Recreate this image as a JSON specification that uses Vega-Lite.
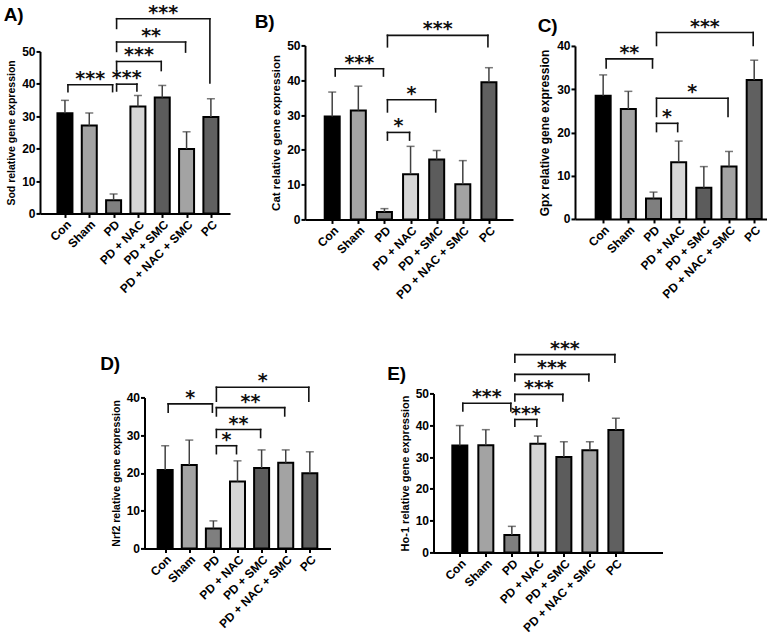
{
 "$schema": "https://vega.github.io/schema/vega-lite/v6.json",
 "padding": {"left": 3, "top": 3, "right": 0, "bottom": 0},
 "config": {
  "view": {"stroke": null},
  "axis": {"domainColor": "black", "domainWidth": 2, "tickColor": "black", "tickWidth": 2, "tickSize": 4, "labelColor": "black", "labelFont": "Liberation Sans", "labelFontWeight": "bold", "labelFontSize": 12, "titleFont": "Liberation Sans", "titleFontWeight": "bold", "titleColor": "black", "grid": false, "labelFlush": false, "labelOverlap": false, "labelPadding": 1, "titlePadding": 5},
  "title": {"anchor": "start", "frame": "bounds", "font": "Liberation Sans", "fontSize": 19, "fontWeight": "bold", "color": "black"}
 },
 "datasets": {
  "groups": [
   {"group": "Con", "order": 0}, {"group": "Sham", "order": 1}, {"group": "PD", "order": 2}, {"group": "PD + NAC", "order": 3},
   {"group": "PD + SMC", "order": 4}, {"group": "PD + NAC + SMC", "order": 5}, {"group": "PC", "order": 6}
  ],
  "bars": [
   {"panel": "A", "group": "Con", "mean": 30.9, "upper": 34.9},
   {"panel": "A", "group": "Sham", "mean": 27.1, "upper": 31.0},
   {"panel": "A", "group": "PD", "mean": 4.1, "upper": 6.0},
   {"panel": "A", "group": "PD + NAC", "mean": 33.0, "upper": 36.4},
   {"panel": "A", "group": "PD + SMC", "mean": 35.8, "upper": 39.5},
   {"panel": "A", "group": "PD + NAC + SMC", "mean": 19.9, "upper": 25.2},
   {"panel": "A", "group": "PC", "mean": 29.8, "upper": 35.4},
   {"panel": "B", "group": "Con", "mean": 29.6, "upper": 36.6},
   {"panel": "B", "group": "Sham", "mean": 31.3, "upper": 38.3},
   {"panel": "B", "group": "PD", "mean": 2.1, "upper": 3.1},
   {"panel": "B", "group": "PD + NAC", "mean": 13.0, "upper": 21.0},
   {"panel": "B", "group": "PD + SMC", "mean": 17.2, "upper": 19.8},
   {"panel": "B", "group": "PD + NAC + SMC", "mean": 10.1, "upper": 16.9},
   {"panel": "B", "group": "PC", "mean": 39.4, "upper": 43.6},
   {"panel": "C", "group": "Con", "mean": 28.5, "upper": 33.3},
   {"panel": "C", "group": "Sham", "mean": 25.4, "upper": 29.5},
   {"panel": "C", "group": "PD", "mean": 4.7, "upper": 6.2},
   {"panel": "C", "group": "PD + NAC", "mean": 13.1, "upper": 18.0},
   {"panel": "C", "group": "PD + SMC", "mean": 7.2, "upper": 12.1},
   {"panel": "C", "group": "PD + NAC + SMC", "mean": 12.1, "upper": 15.6},
   {"panel": "C", "group": "PC", "mean": 32.1, "upper": 36.7},
   {"panel": "D", "group": "Con", "mean": 20.8, "upper": 27.2},
   {"panel": "D", "group": "Sham", "mean": 22.1, "upper": 28.7},
   {"panel": "D", "group": "PD", "mean": 5.3, "upper": 7.3},
   {"panel": "D", "group": "PD + NAC", "mean": 17.7, "upper": 23.2},
   {"panel": "D", "group": "PD + SMC", "mean": 21.3, "upper": 26.1},
   {"panel": "D", "group": "PD + NAC + SMC", "mean": 22.7, "upper": 26.1},
   {"panel": "D", "group": "PC", "mean": 19.9, "upper": 25.6},
   {"panel": "E", "group": "Con", "mean": 33.6, "upper": 39.9},
   {"panel": "E", "group": "Sham", "mean": 33.7, "upper": 38.6},
   {"panel": "E", "group": "PD", "mean": 5.5, "upper": 8.2},
   {"panel": "E", "group": "PD + NAC", "mean": 34.2, "upper": 36.6},
   {"panel": "E", "group": "PD + SMC", "mean": 30.0, "upper": 34.8},
   {"panel": "E", "group": "PD + NAC + SMC", "mean": 32.1, "upper": 34.8},
   {"panel": "E", "group": "PC", "mean": 38.5, "upper": 42.2}
  ],
  "brackets": [
   {"panel": "A", "from": "Con", "to": "PD", "level": 39.7, "lo1": 37.6, "lo2": 37.6, "sig": "***"},
   {"panel": "A", "from": "PD", "to": "PD + NAC", "level": 39.9, "lo1": 37.8, "lo2": 37.8, "sig": "***"},
   {"panel": "A", "from": "PD", "to": "PD + SMC", "level": 46.9, "lo1": 44.1, "lo2": 44.1, "sig": "***"},
   {"panel": "A", "from": "PD", "to": "PD + NAC + SMC", "level": 52.9, "lo1": 50.0, "lo2": 49.8, "sig": "**"},
   {"panel": "A", "from": "PD", "to": "PC", "level": 60.1, "lo1": 57.1, "lo2": 40.3, "sig": "***"},
   {"panel": "B", "from": "Con", "to": "PD", "level": 43.3, "lo1": 41.2, "lo2": 41.2, "sig": "***"},
   {"panel": "B", "from": "PD", "to": "PD + NAC", "level": 25.0, "lo1": 22.8, "lo2": 22.8, "sig": "*"},
   {"panel": "B", "from": "PD", "to": "PD + SMC", "level": 34.4, "lo1": 30.9, "lo2": 30.9, "sig": "*"},
   {"panel": "B", "from": "PD", "to": "PC", "level": 52.9, "lo1": 49.6, "lo2": 49.6, "sig": "***"},
   {"panel": "C", "from": "Con", "to": "PD", "level": 37.0, "lo1": 34.9, "lo2": 34.9, "sig": "**"},
   {"panel": "C", "from": "PD", "to": "PD + NAC", "level": 22.1, "lo1": 20.2, "lo2": 20.2, "sig": "*"},
   {"panel": "C", "from": "PD", "to": "PD + NAC + SMC", "level": 27.9, "lo1": 23.7, "lo2": 23.7, "sig": "*"},
   {"panel": "C", "from": "PD", "to": "PC", "level": 43.1, "lo1": 40.1, "lo2": 40.1, "sig": "***"},
   {"panel": "D", "from": "Con", "to": "PD", "level": 38.3, "lo1": 36.1, "lo2": 36.1, "sig": "*"},
   {"panel": "D", "from": "PD", "to": "PD + NAC", "level": 27.2, "lo1": 25.1, "lo2": 25.1, "sig": "*"},
   {"panel": "D", "from": "PD", "to": "PD + SMC", "level": 31.5, "lo1": 29.4, "lo2": 29.4, "sig": "**"},
   {"panel": "D", "from": "PD", "to": "PD + NAC + SMC", "level": 37.3, "lo1": 35.1, "lo2": 35.1, "sig": "**"},
   {"panel": "D", "from": "PD", "to": "PC", "level": 42.7, "lo1": 39.0, "lo2": 39.0, "sig": "*"},
   {"panel": "E", "from": "Con", "to": "PD", "level": 46.9, "lo1": 44.5, "lo2": 44.5, "sig": "***"},
   {"panel": "E", "from": "PD", "to": "PD + NAC", "level": 41.8, "lo1": 39.7, "lo2": 39.7, "sig": "***"},
   {"panel": "E", "from": "PD", "to": "PD + SMC", "level": 49.7, "lo1": 47.6, "lo2": 47.6, "sig": "***"},
   {"panel": "E", "from": "PD", "to": "PD + NAC + SMC", "level": 56.0, "lo1": 53.9, "lo2": 53.9, "sig": "***"},
   {"panel": "E", "from": "PD", "to": "PC", "level": 62.2, "lo1": 59.8, "lo2": 59.8, "sig": "***"}
  ]
 },
 "center": true,
 "spacing": 38,
 "vconcat": [
  {"spacing": 24, "center": true, "hconcat": [
   {"title": {"text": "A)", "offset": -21, "dx": -3}, "width": 190, "height": 162,
    "resolve": {"axis": {"x": "independent", "y": "independent"}},
    "layer": [
     {"data": {"name": "bars"}, "transform": [{"filter": "datum.panel === 'A'"}, {"lookup": "group", "from": {"data": {"name": "groups"}, "key": "group", "fields": ["order"]}}],
      "mark": {"type": "bar", "width": 15, "stroke": "black", "strokeWidth": 2},
      "encoding": {
       "x": {"field": "order", "type": "quantitative", "scale": {"domain": [-0.82, 6.58], "nice": false, "zero": false}, "axis": {"title": null, "values": [0, 1, 2, 3, 4, 5, 6], "labelOverlap": false, "labelExpr": "['Con','Sham','PD','PD + NAC','PD + SMC','PD + NAC + SMC','PC'][datum.value]", "labelAngle": -45, "labelAlign": "right", "labelBaseline": "top"}},
       "y": {"field": "mean", "type": "quantitative", "scale": {"domain": [0, 50], "nice": false}, "axis": {"title": "Sod relative gene expression", "values": [0, 10, 20, 30, 40, 50], "labelOverlap": false, "titleFontSize": 10.5}},
       "color": {"field": "group", "type": "nominal", "scale": {"domain": ["Con", "Sham", "PD", "PD + NAC", "PD + SMC", "PD + NAC + SMC", "PC"], "range": ["#000000", "#a3a3a3", "#7f7f7f", "#d6d6d6", "#5c5c5c", "#a3a3a3", "#606060"]}, "legend": null}}},
     {"data": {"name": "bars"}, "transform": [{"filter": "datum.panel === 'A'"}, {"lookup": "group", "from": {"data": {"name": "groups"}, "key": "group", "fields": ["order"]}}],
      "mark": {"type": "rule", "color": "#404040", "strokeWidth": 1.5},
      "encoding": {"x": {"field": "order", "type": "quantitative", "axis": null}, "y": {"field": "mean", "type": "quantitative", "axis": null}, "y2": {"field": "upper"}}},
     {"data": {"name": "bars"}, "transform": [{"filter": "datum.panel === 'A'"}, {"lookup": "group", "from": {"data": {"name": "groups"}, "key": "group", "fields": ["order"]}}],
      "mark": {"type": "tick", "orient": "horizontal", "size": 8, "thickness": 1.5, "color": "#404040"},
      "encoding": {"x": {"field": "order", "type": "quantitative", "axis": null}, "y": {"field": "upper", "type": "quantitative", "axis": null}}},
     {"data": {"name": "brackets"}, "transform": [{"filter": "datum.panel === 'A'"}, {"lookup": "from", "from": {"data": {"name": "groups"}, "key": "group", "fields": ["order"]}, "as": ["i1"]}, {"lookup": "to", "from": {"data": {"name": "groups"}, "key": "group", "fields": ["order"]}, "as": ["i2"]}],
      "mark": {"type": "rule", "strokeWidth": 1.6, "color": "#111111", "strokeCap": "square", "xOffset": 3, "x2Offset": -1},
      "encoding": {"x": {"field": "i1", "type": "quantitative", "axis": null}, "x2": {"field": "i2"}, "y": {"field": "level", "type": "quantitative", "axis": null}}},
     {"data": {"name": "brackets"}, "transform": [{"filter": "datum.panel === 'A'"}, {"lookup": "from", "from": {"data": {"name": "groups"}, "key": "group", "fields": ["order"]}, "as": ["i1"]}],
      "mark": {"type": "rule", "strokeWidth": 1.6, "color": "#111111", "strokeCap": "square", "xOffset": 3},
      "encoding": {"x": {"field": "i1", "type": "quantitative", "axis": null}, "y": {"field": "level", "type": "quantitative", "axis": null}, "y2": {"field": "lo1"}}},
     {"data": {"name": "brackets"}, "transform": [{"filter": "datum.panel === 'A'"}, {"lookup": "to", "from": {"data": {"name": "groups"}, "key": "group", "fields": ["order"]}, "as": ["i2"]}],
      "mark": {"type": "rule", "strokeWidth": 1.6, "color": "#111111", "strokeCap": "square", "xOffset": -1},
      "encoding": {"x": {"field": "i2", "type": "quantitative", "axis": null}, "y": {"field": "level", "type": "quantitative", "axis": null}, "y2": {"field": "lo2"}}},
     {"data": {"name": "brackets"}, "transform": [{"filter": "datum.panel === 'A'"}, {"lookup": "from", "from": {"data": {"name": "groups"}, "key": "group", "fields": ["order"]}, "as": ["i1"]}, {"lookup": "to", "from": {"data": {"name": "groups"}, "key": "group", "fields": ["order"]}, "as": ["i2"]}, {"fold": ["i1", "i2"]}, {"aggregate": [{"op": "mean", "field": "value", "as": "mid"}], "groupby": ["from", "to", "level", "sig"]}],
      "mark": {"type": "text", "font": "DejaVu Sans", "fontWeight": "bold", "fontSize": 19, "baseline": "alphabetic", "dx": 1, "color": "#111111"},
      "encoding": {"x": {"field": "mid", "type": "quantitative", "axis": null}, "y": {"field": "level", "type": "quantitative", "axis": null}, "text": {"field": "sig", "type": "nominal"}}}
    ]},
   {"title": {"text": "B)", "offset": -12, "dx": -16}, "width": 208, "height": 174,
    "resolve": {"axis": {"x": "independent", "y": "independent"}},
    "layer": [
     {"data": {"name": "bars"}, "transform": [{"filter": "datum.panel === 'B'"}, {"lookup": "group", "from": {"data": {"name": "groups"}, "key": "group", "fields": ["order"]}}],
      "mark": {"type": "bar", "width": 15, "stroke": "black", "strokeWidth": 2},
      "encoding": {
       "x": {"field": "order", "type": "quantitative", "scale": {"domain": [-0.85, 6.73], "nice": false, "zero": false}, "axis": {"title": null, "values": [0, 1, 2, 3, 4, 5, 6], "labelOverlap": false, "labelExpr": "['Con','Sham','PD','PD + NAC','PD + SMC','PD + NAC + SMC','PC'][datum.value]", "labelAngle": -45, "labelAlign": "right", "labelBaseline": "top"}},
       "y": {"field": "mean", "type": "quantitative", "scale": {"domain": [0, 50], "nice": false}, "axis": {"title": "Cat relative gene expression", "values": [0, 10, 20, 30, 40, 50], "labelOverlap": false, "titleFontSize": 11.5}},
       "color": {"field": "group", "type": "nominal", "scale": {"domain": ["Con", "Sham", "PD", "PD + NAC", "PD + SMC", "PD + NAC + SMC", "PC"], "range": ["#000000", "#a3a3a3", "#7f7f7f", "#d6d6d6", "#5c5c5c", "#a3a3a3", "#606060"]}, "legend": null}}},
     {"data": {"name": "bars"}, "transform": [{"filter": "datum.panel === 'B'"}, {"lookup": "group", "from": {"data": {"name": "groups"}, "key": "group", "fields": ["order"]}}],
      "mark": {"type": "rule", "color": "#404040", "strokeWidth": 1.5},
      "encoding": {"x": {"field": "order", "type": "quantitative", "axis": null}, "y": {"field": "mean", "type": "quantitative", "axis": null}, "y2": {"field": "upper"}}},
     {"data": {"name": "bars"}, "transform": [{"filter": "datum.panel === 'B'"}, {"lookup": "group", "from": {"data": {"name": "groups"}, "key": "group", "fields": ["order"]}}],
      "mark": {"type": "tick", "orient": "horizontal", "size": 8, "thickness": 1.5, "color": "#404040"},
      "encoding": {"x": {"field": "order", "type": "quantitative", "axis": null}, "y": {"field": "upper", "type": "quantitative", "axis": null}}},
     {"data": {"name": "brackets"}, "transform": [{"filter": "datum.panel === 'B'"}, {"lookup": "from", "from": {"data": {"name": "groups"}, "key": "group", "fields": ["order"]}, "as": ["i1"]}, {"lookup": "to", "from": {"data": {"name": "groups"}, "key": "group", "fields": ["order"]}, "as": ["i2"]}],
      "mark": {"type": "rule", "strokeWidth": 1.6, "color": "#111111", "strokeCap": "square", "xOffset": 3, "x2Offset": -1},
      "encoding": {"x": {"field": "i1", "type": "quantitative", "axis": null}, "x2": {"field": "i2"}, "y": {"field": "level", "type": "quantitative", "axis": null}}},
     {"data": {"name": "brackets"}, "transform": [{"filter": "datum.panel === 'B'"}, {"lookup": "from", "from": {"data": {"name": "groups"}, "key": "group", "fields": ["order"]}, "as": ["i1"]}],
      "mark": {"type": "rule", "strokeWidth": 1.6, "color": "#111111", "strokeCap": "square", "xOffset": 3},
      "encoding": {"x": {"field": "i1", "type": "quantitative", "axis": null}, "y": {"field": "level", "type": "quantitative", "axis": null}, "y2": {"field": "lo1"}}},
     {"data": {"name": "brackets"}, "transform": [{"filter": "datum.panel === 'B'"}, {"lookup": "to", "from": {"data": {"name": "groups"}, "key": "group", "fields": ["order"]}, "as": ["i2"]}],
      "mark": {"type": "rule", "strokeWidth": 1.6, "color": "#111111", "strokeCap": "square", "xOffset": -1},
      "encoding": {"x": {"field": "i2", "type": "quantitative", "axis": null}, "y": {"field": "level", "type": "quantitative", "axis": null}, "y2": {"field": "lo2"}}},
     {"data": {"name": "brackets"}, "transform": [{"filter": "datum.panel === 'B'"}, {"lookup": "from", "from": {"data": {"name": "groups"}, "key": "group", "fields": ["order"]}, "as": ["i1"]}, {"lookup": "to", "from": {"data": {"name": "groups"}, "key": "group", "fields": ["order"]}, "as": ["i2"]}, {"fold": ["i1", "i2"]}, {"aggregate": [{"op": "mean", "field": "value", "as": "mid"}], "groupby": ["from", "to", "level", "sig"]}],
      "mark": {"type": "text", "font": "DejaVu Sans", "fontWeight": "bold", "fontSize": 19, "baseline": "alphabetic", "dx": 1, "color": "#111111"},
      "encoding": {"x": {"field": "mid", "type": "quantitative", "axis": null}, "y": {"field": "level", "type": "quantitative", "axis": null}, "text": {"field": "sig", "type": "nominal"}}}
    ]},
   {"title": {"text": "C)", "offset": -18, "dx": -1}, "width": 192, "height": 173,
    "resolve": {"axis": {"x": "independent", "y": "independent"}},
    "layer": [
     {"data": {"name": "bars"}, "transform": [{"filter": "datum.panel === 'C'"}, {"lookup": "group", "from": {"data": {"name": "groups"}, "key": "group", "fields": ["order"]}}],
      "mark": {"type": "bar", "width": 15, "stroke": "black", "strokeWidth": 2},
      "encoding": {
       "x": {"field": "order", "type": "quantitative", "scale": {"domain": [-0.92, 6.31], "nice": false, "zero": false}, "axis": {"title": null, "values": [0, 1, 2, 3, 4, 5, 6], "labelOverlap": false, "labelExpr": "['Con','Sham','PD','PD + NAC','PD + SMC','PD + NAC + SMC','PC'][datum.value]", "labelAngle": -45, "labelAlign": "right", "labelBaseline": "top"}},
       "y": {"field": "mean", "type": "quantitative", "scale": {"domain": [0, 40], "nice": false}, "axis": {"title": "Gpx relative gene expression", "values": [0, 10, 20, 30, 40], "labelOverlap": false, "titleFontSize": 12}},
       "color": {"field": "group", "type": "nominal", "scale": {"domain": ["Con", "Sham", "PD", "PD + NAC", "PD + SMC", "PD + NAC + SMC", "PC"], "range": ["#000000", "#a3a3a3", "#7f7f7f", "#d6d6d6", "#5c5c5c", "#a3a3a3", "#606060"]}, "legend": null}}},
     {"data": {"name": "bars"}, "transform": [{"filter": "datum.panel === 'C'"}, {"lookup": "group", "from": {"data": {"name": "groups"}, "key": "group", "fields": ["order"]}}],
      "mark": {"type": "rule", "color": "#404040", "strokeWidth": 1.5},
      "encoding": {"x": {"field": "order", "type": "quantitative", "axis": null}, "y": {"field": "mean", "type": "quantitative", "axis": null}, "y2": {"field": "upper"}}},
     {"data": {"name": "bars"}, "transform": [{"filter": "datum.panel === 'C'"}, {"lookup": "group", "from": {"data": {"name": "groups"}, "key": "group", "fields": ["order"]}}],
      "mark": {"type": "tick", "orient": "horizontal", "size": 8, "thickness": 1.5, "color": "#404040"},
      "encoding": {"x": {"field": "order", "type": "quantitative", "axis": null}, "y": {"field": "upper", "type": "quantitative", "axis": null}}},
     {"data": {"name": "brackets"}, "transform": [{"filter": "datum.panel === 'C'"}, {"lookup": "from", "from": {"data": {"name": "groups"}, "key": "group", "fields": ["order"]}, "as": ["i1"]}, {"lookup": "to", "from": {"data": {"name": "groups"}, "key": "group", "fields": ["order"]}, "as": ["i2"]}],
      "mark": {"type": "rule", "strokeWidth": 1.6, "color": "#111111", "strokeCap": "square", "xOffset": 3, "x2Offset": -1},
      "encoding": {"x": {"field": "i1", "type": "quantitative", "axis": null}, "x2": {"field": "i2"}, "y": {"field": "level", "type": "quantitative", "axis": null}}},
     {"data": {"name": "brackets"}, "transform": [{"filter": "datum.panel === 'C'"}, {"lookup": "from", "from": {"data": {"name": "groups"}, "key": "group", "fields": ["order"]}, "as": ["i1"]}],
      "mark": {"type": "rule", "strokeWidth": 1.6, "color": "#111111", "strokeCap": "square", "xOffset": 3},
      "encoding": {"x": {"field": "i1", "type": "quantitative", "axis": null}, "y": {"field": "level", "type": "quantitative", "axis": null}, "y2": {"field": "lo1"}}},
     {"data": {"name": "brackets"}, "transform": [{"filter": "datum.panel === 'C'"}, {"lookup": "to", "from": {"data": {"name": "groups"}, "key": "group", "fields": ["order"]}, "as": ["i2"]}],
      "mark": {"type": "rule", "strokeWidth": 1.6, "color": "#111111", "strokeCap": "square", "xOffset": -1},
      "encoding": {"x": {"field": "i2", "type": "quantitative", "axis": null}, "y": {"field": "level", "type": "quantitative", "axis": null}, "y2": {"field": "lo2"}}},
     {"data": {"name": "brackets"}, "transform": [{"filter": "datum.panel === 'C'"}, {"lookup": "from", "from": {"data": {"name": "groups"}, "key": "group", "fields": ["order"]}, "as": ["i1"]}, {"lookup": "to", "from": {"data": {"name": "groups"}, "key": "group", "fields": ["order"]}, "as": ["i2"]}, {"fold": ["i1", "i2"]}, {"aggregate": [{"op": "mean", "field": "value", "as": "mid"}], "groupby": ["from", "to", "level", "sig"]}],
      "mark": {"type": "text", "font": "DejaVu Sans", "fontWeight": "bold", "fontSize": 19, "baseline": "alphabetic", "dx": 1, "color": "#111111"},
      "encoding": {"x": {"field": "mid", "type": "quantitative", "axis": null}, "y": {"field": "level", "type": "quantitative", "axis": null}, "text": {"field": "sig", "type": "nominal"}}}
    ]}
  ]},
  {"spacing": 56, "center": true, "hconcat": [
   {"title": {"text": "D)", "offset": -2, "dx": -11}, "width": 186, "height": 151,
    "resolve": {"axis": {"x": "independent", "y": "independent"}},
    "layer": [
     {"data": {"name": "bars"}, "transform": [{"filter": "datum.panel === 'D'"}, {"lookup": "group", "from": {"data": {"name": "groups"}, "key": "group", "fields": ["order"]}}],
      "mark": {"type": "bar", "width": 15, "stroke": "black", "strokeWidth": 2},
      "encoding": {
       "x": {"field": "order", "type": "quantitative", "scale": {"domain": [-0.65, 6.65], "nice": false, "zero": false}, "axis": {"title": null, "values": [0, 1, 2, 3, 4, 5, 6], "labelOverlap": false, "labelExpr": "['Con','Sham','PD','PD + NAC','PD + SMC','PD + NAC + SMC','PC'][datum.value]", "labelAngle": -45, "labelAlign": "right", "labelBaseline": "top"}},
       "y": {"field": "mean", "type": "quantitative", "scale": {"domain": [0, 40], "nice": false}, "axis": {"title": "Nrf2 relative gene expression", "values": [0, 10, 20, 30, 40], "labelOverlap": false, "titleFontSize": 10.5}},
       "color": {"field": "group", "type": "nominal", "scale": {"domain": ["Con", "Sham", "PD", "PD + NAC", "PD + SMC", "PD + NAC + SMC", "PC"], "range": ["#000000", "#a3a3a3", "#7f7f7f", "#d6d6d6", "#5c5c5c", "#a3a3a3", "#606060"]}, "legend": null}}},
     {"data": {"name": "bars"}, "transform": [{"filter": "datum.panel === 'D'"}, {"lookup": "group", "from": {"data": {"name": "groups"}, "key": "group", "fields": ["order"]}}],
      "mark": {"type": "rule", "color": "#404040", "strokeWidth": 1.5},
      "encoding": {"x": {"field": "order", "type": "quantitative", "axis": null}, "y": {"field": "mean", "type": "quantitative", "axis": null}, "y2": {"field": "upper"}}},
     {"data": {"name": "bars"}, "transform": [{"filter": "datum.panel === 'D'"}, {"lookup": "group", "from": {"data": {"name": "groups"}, "key": "group", "fields": ["order"]}}],
      "mark": {"type": "tick", "orient": "horizontal", "size": 8, "thickness": 1.5, "color": "#404040"},
      "encoding": {"x": {"field": "order", "type": "quantitative", "axis": null}, "y": {"field": "upper", "type": "quantitative", "axis": null}}},
     {"data": {"name": "brackets"}, "transform": [{"filter": "datum.panel === 'D'"}, {"lookup": "from", "from": {"data": {"name": "groups"}, "key": "group", "fields": ["order"]}, "as": ["i1"]}, {"lookup": "to", "from": {"data": {"name": "groups"}, "key": "group", "fields": ["order"]}, "as": ["i2"]}],
      "mark": {"type": "rule", "strokeWidth": 1.6, "color": "#111111", "strokeCap": "square", "xOffset": 3, "x2Offset": -1},
      "encoding": {"x": {"field": "i1", "type": "quantitative", "axis": null}, "x2": {"field": "i2"}, "y": {"field": "level", "type": "quantitative", "axis": null}}},
     {"data": {"name": "brackets"}, "transform": [{"filter": "datum.panel === 'D'"}, {"lookup": "from", "from": {"data": {"name": "groups"}, "key": "group", "fields": ["order"]}, "as": ["i1"]}],
      "mark": {"type": "rule", "strokeWidth": 1.6, "color": "#111111", "strokeCap": "square", "xOffset": 3},
      "encoding": {"x": {"field": "i1", "type": "quantitative", "axis": null}, "y": {"field": "level", "type": "quantitative", "axis": null}, "y2": {"field": "lo1"}}},
     {"data": {"name": "brackets"}, "transform": [{"filter": "datum.panel === 'D'"}, {"lookup": "to", "from": {"data": {"name": "groups"}, "key": "group", "fields": ["order"]}, "as": ["i2"]}],
      "mark": {"type": "rule", "strokeWidth": 1.6, "color": "#111111", "strokeCap": "square", "xOffset": -1},
      "encoding": {"x": {"field": "i2", "type": "quantitative", "axis": null}, "y": {"field": "level", "type": "quantitative", "axis": null}, "y2": {"field": "lo2"}}},
     {"data": {"name": "brackets"}, "transform": [{"filter": "datum.panel === 'D'"}, {"lookup": "from", "from": {"data": {"name": "groups"}, "key": "group", "fields": ["order"]}, "as": ["i1"]}, {"lookup": "to", "from": {"data": {"name": "groups"}, "key": "group", "fields": ["order"]}, "as": ["i2"]}, {"fold": ["i1", "i2"]}, {"aggregate": [{"op": "mean", "field": "value", "as": "mid"}], "groupby": ["from", "to", "level", "sig"]}],
      "mark": {"type": "text", "font": "DejaVu Sans", "fontWeight": "bold", "fontSize": 19, "baseline": "alphabetic", "dx": 1, "color": "#111111"},
      "encoding": {"x": {"field": "mid", "type": "quantitative", "axis": null}, "y": {"field": "level", "type": "quantitative", "axis": null}, "text": {"field": "sig", "type": "nominal"}}}
    ]},
   {"title": {"text": "E)", "offset": -44, "dx": -12}, "width": 229, "height": 159,
    "resolve": {"axis": {"x": "independent", "y": "independent"}},
    "layer": [
     {"data": {"name": "bars"}, "transform": [{"filter": "datum.panel === 'E'"}, {"lookup": "group", "from": {"data": {"name": "groups"}, "key": "group", "fields": ["order"]}}],
      "mark": {"type": "bar", "width": 15, "stroke": "black", "strokeWidth": 2},
      "encoding": {
       "x": {"field": "order", "type": "quantitative", "scale": {"domain": [-0.82, 7.6], "nice": false, "zero": false}, "axis": {"title": null, "values": [0, 1, 2, 3, 4, 5, 6], "labelOverlap": false, "labelExpr": "['Con','Sham','PD','PD + NAC','PD + SMC','PD + NAC + SMC','PC'][datum.value]", "labelAngle": -45, "labelAlign": "right", "labelBaseline": "top"}},
       "y": {"field": "mean", "type": "quantitative", "scale": {"domain": [0, 50], "nice": false}, "axis": {"title": "Ho-1 relative gene expression", "values": [0, 10, 20, 30, 40, 50], "labelOverlap": false, "titleFontSize": 11}},
       "color": {"field": "group", "type": "nominal", "scale": {"domain": ["Con", "Sham", "PD", "PD + NAC", "PD + SMC", "PD + NAC + SMC", "PC"], "range": ["#000000", "#a3a3a3", "#7f7f7f", "#d6d6d6", "#5c5c5c", "#a3a3a3", "#606060"]}, "legend": null}}},
     {"data": {"name": "bars"}, "transform": [{"filter": "datum.panel === 'E'"}, {"lookup": "group", "from": {"data": {"name": "groups"}, "key": "group", "fields": ["order"]}}],
      "mark": {"type": "rule", "color": "#404040", "strokeWidth": 1.5},
      "encoding": {"x": {"field": "order", "type": "quantitative", "axis": null}, "y": {"field": "mean", "type": "quantitative", "axis": null}, "y2": {"field": "upper"}}},
     {"data": {"name": "bars"}, "transform": [{"filter": "datum.panel === 'E'"}, {"lookup": "group", "from": {"data": {"name": "groups"}, "key": "group", "fields": ["order"]}}],
      "mark": {"type": "tick", "orient": "horizontal", "size": 8, "thickness": 1.5, "color": "#404040"},
      "encoding": {"x": {"field": "order", "type": "quantitative", "axis": null}, "y": {"field": "upper", "type": "quantitative", "axis": null}}},
     {"data": {"name": "brackets"}, "transform": [{"filter": "datum.panel === 'E'"}, {"lookup": "from", "from": {"data": {"name": "groups"}, "key": "group", "fields": ["order"]}, "as": ["i1"]}, {"lookup": "to", "from": {"data": {"name": "groups"}, "key": "group", "fields": ["order"]}, "as": ["i2"]}],
      "mark": {"type": "rule", "strokeWidth": 1.6, "color": "#111111", "strokeCap": "square", "xOffset": 3, "x2Offset": -1},
      "encoding": {"x": {"field": "i1", "type": "quantitative", "axis": null}, "x2": {"field": "i2"}, "y": {"field": "level", "type": "quantitative", "axis": null}}},
     {"data": {"name": "brackets"}, "transform": [{"filter": "datum.panel === 'E'"}, {"lookup": "from", "from": {"data": {"name": "groups"}, "key": "group", "fields": ["order"]}, "as": ["i1"]}],
      "mark": {"type": "rule", "strokeWidth": 1.6, "color": "#111111", "strokeCap": "square", "xOffset": 3},
      "encoding": {"x": {"field": "i1", "type": "quantitative", "axis": null}, "y": {"field": "level", "type": "quantitative", "axis": null}, "y2": {"field": "lo1"}}},
     {"data": {"name": "brackets"}, "transform": [{"filter": "datum.panel === 'E'"}, {"lookup": "to", "from": {"data": {"name": "groups"}, "key": "group", "fields": ["order"]}, "as": ["i2"]}],
      "mark": {"type": "rule", "strokeWidth": 1.6, "color": "#111111", "strokeCap": "square", "xOffset": -1},
      "encoding": {"x": {"field": "i2", "type": "quantitative", "axis": null}, "y": {"field": "level", "type": "quantitative", "axis": null}, "y2": {"field": "lo2"}}},
     {"data": {"name": "brackets"}, "transform": [{"filter": "datum.panel === 'E'"}, {"lookup": "from", "from": {"data": {"name": "groups"}, "key": "group", "fields": ["order"]}, "as": ["i1"]}, {"lookup": "to", "from": {"data": {"name": "groups"}, "key": "group", "fields": ["order"]}, "as": ["i2"]}, {"fold": ["i1", "i2"]}, {"aggregate": [{"op": "mean", "field": "value", "as": "mid"}], "groupby": ["from", "to", "level", "sig"]}],
      "mark": {"type": "text", "font": "DejaVu Sans", "fontWeight": "bold", "fontSize": 19, "baseline": "alphabetic", "dx": 1, "color": "#111111"},
      "encoding": {"x": {"field": "mid", "type": "quantitative", "axis": null}, "y": {"field": "level", "type": "quantitative", "axis": null}, "text": {"field": "sig", "type": "nominal"}}}
    ]}
  ]}
 ]
}
